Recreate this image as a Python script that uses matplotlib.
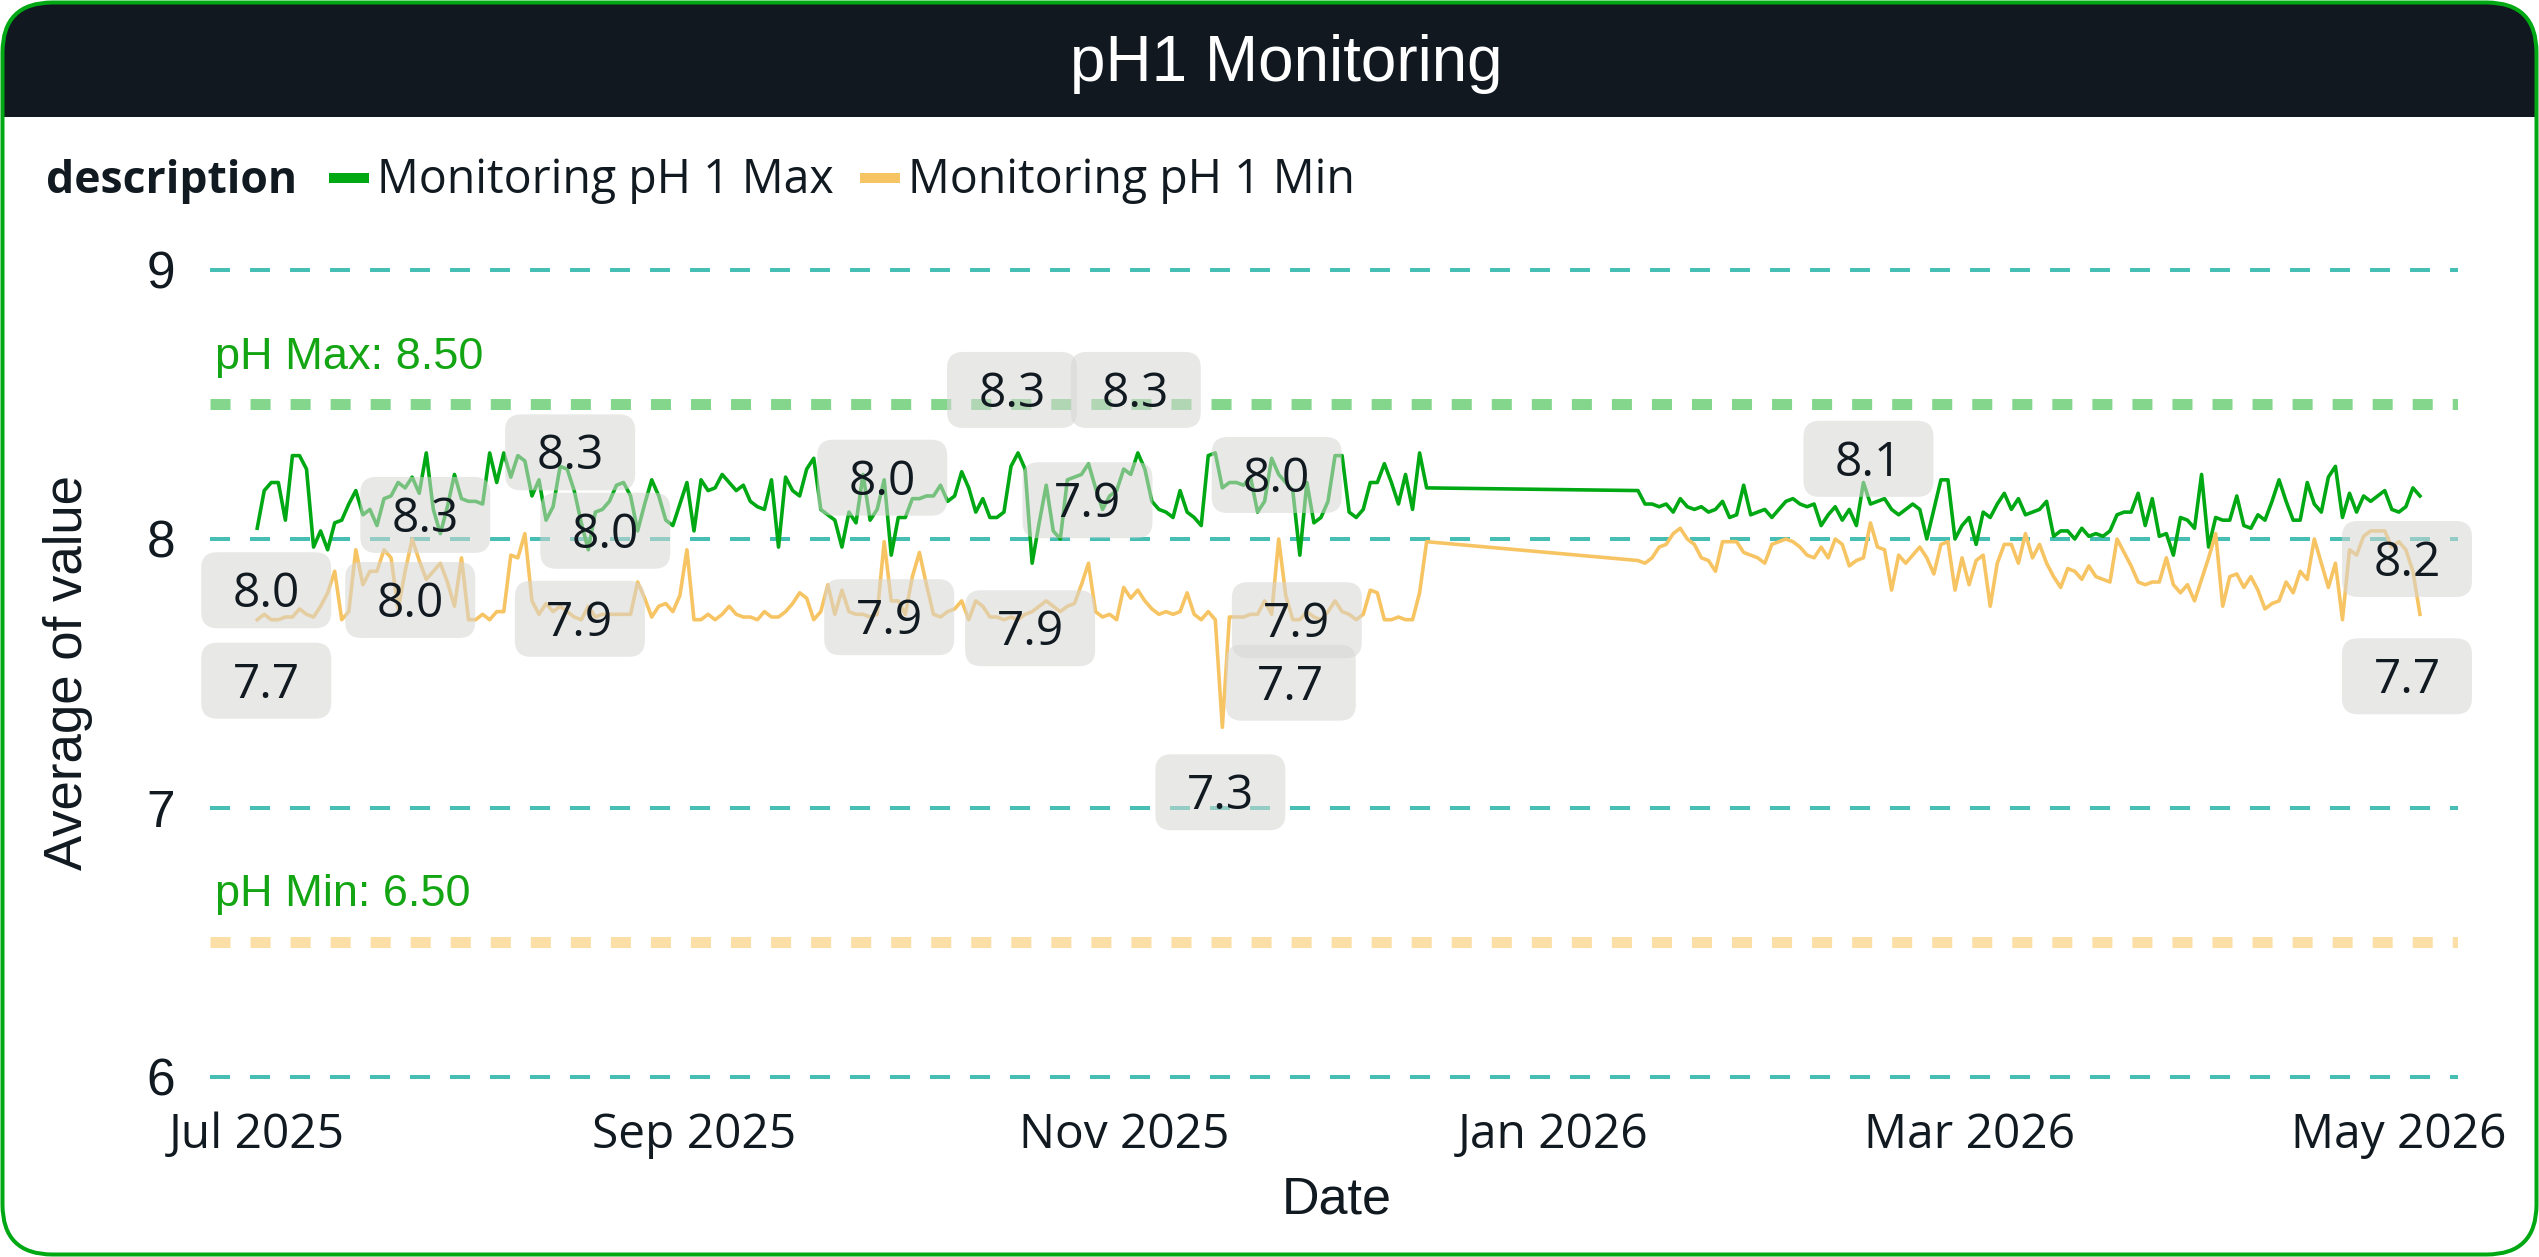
import matplotlib
matplotlib.use('Agg')
import matplotlib.pyplot as plt
import matplotlib.dates as mdates
from matplotlib.patches import FancyBboxPatch, Rectangle
from matplotlib.lines import Line2D
import pandas as pd

W, H = 2539, 1257
DPI = 100
PT = 72 / DPI  # points per pixel

# ---------------- data ----------------
dates_part1 = pd.date_range('2025-07-01', '2025-12-14', freq='D')
dates_part2 = pd.date_range('2026-01-13', '2026-05-04', freq='D')

ph_max_part1 = [
    8.04, 8.18, 8.21, 8.21, 8.07, 8.31, 8.31, 8.26, 7.97, 8.03,
    7.96, 8.06, 8.07, 8.13, 8.18, 8.09, 8.11, 8.05, 8.15, 8.16,
    8.21, 8.19, 8.23, 8.17, 8.32, 8.11, 8.02, 8.12, 8.24, 8.15,
    8.14, 8.14, 8.13, 8.32, 8.21, 8.32, 8.23, 8.31, 8.29, 8.16,
    8.22, 8.07, 8.12, 8.27, 8.26, 8.18, 8.06, 7.96, 8.10, 8.11,
    8.14, 8.20, 8.21, 8.16, 8.03, 8.13, 8.22, 8.16, 8.07, 8.05,
    8.13, 8.21, 8.03, 8.22, 8.18, 8.19, 8.24, 8.21, 8.18, 8.20,
    8.14, 8.12, 8.11, 8.22, 7.97, 8.23, 8.18, 8.16, 8.26, 8.30,
    8.11, 8.09, 8.07, 7.97, 8.10, 8.06, 8.24, 8.07, 8.11, 8.22,
    7.94, 8.08, 8.08, 8.15, 8.15, 8.16, 8.16, 8.20, 8.14, 8.16,
    8.25, 8.19, 8.10, 8.15, 8.08, 8.08, 8.10, 8.27, 8.32, 8.26,
    7.91, 8.06, 8.20, 8.03, 8.00, 8.22, 8.23, 8.24, 8.28, 8.19,
    8.11, 8.16, 8.18, 8.26, 8.24, 8.32, 8.26, 8.14, 8.11, 8.10,
    8.08, 8.18, 8.10, 8.08, 8.05, 8.31, 8.32, 8.19, 8.21, 8.21,
    8.20, 8.23, 8.10, 8.14, 8.30, 8.24, 8.21, 8.18, 7.94, 8.21,
    8.06, 8.08, 8.14, 8.31, 8.31, 8.10, 8.08, 8.11, 8.21, 8.21,
    8.28, 8.21, 8.13, 8.24, 8.11, 8.32, 8.19,
]
ph_max_part2 = [
    8.18, 8.13, 8.13, 8.12,
    8.13, 8.10, 8.15, 8.12, 8.11, 8.12, 8.10, 8.11, 8.14, 8.08,
    8.09, 8.20, 8.09, 8.10, 8.11, 8.08, 8.11, 8.14, 8.15, 8.13,
    8.12, 8.13, 8.05, 8.09, 8.12, 8.07, 8.11, 8.05, 8.21, 8.13,
    8.14, 8.15, 8.11, 8.09, 8.11, 8.13, 8.11, 8.00, 8.11, 8.22,
    8.22, 8.00, 8.05, 8.08, 7.98, 8.10, 8.08, 8.13, 8.17, 8.11,
    8.15, 8.09, 8.10, 8.11, 8.14, 8.01, 8.03, 8.03, 8.00, 8.04,
    8.01, 8.02, 8.01, 8.03, 8.09, 8.10, 8.10, 8.17, 8.05, 8.15,
    8.01, 8.02, 7.94, 8.08, 8.07, 8.04, 8.24, 7.97, 8.08, 8.07,
    8.07, 8.16, 8.05, 8.04, 8.09, 8.07, 8.14, 8.22, 8.14, 8.07,
    8.07, 8.21, 8.13, 8.10, 8.23, 8.27, 8.08, 8.17, 8.10, 8.16,
    8.14, 8.16, 8.18, 8.11, 8.10, 8.12, 8.19, 8.16,
]
ph_min_part1 = [
    7.70, 7.72, 7.70, 7.70, 7.71, 7.71, 7.74, 7.72, 7.71, 7.75,
    7.80, 7.88, 7.70, 7.73, 7.96, 7.83, 7.88, 7.88, 7.96, 7.93,
    7.74, 7.88, 8.00, 7.92, 7.85, 7.88, 7.91, 7.84, 7.75, 7.93,
    7.70, 7.70, 7.72, 7.70, 7.73, 7.73, 7.94, 7.93, 8.02, 7.77,
    7.72, 7.76, 7.73, 7.75, 7.73, 7.71, 7.70, 7.75, 7.71, 7.72,
    7.72, 7.72, 7.72, 7.72, 7.84, 7.78, 7.71, 7.75, 7.76, 7.73,
    7.79, 7.96, 7.70, 7.70, 7.72, 7.70, 7.72, 7.75, 7.72, 7.71,
    7.71, 7.70, 7.73, 7.71, 7.71, 7.73, 7.76, 7.80, 7.78, 7.70,
    7.73, 7.83, 7.72, 7.81, 7.73, 7.72, 7.72, 7.71, 7.72, 7.99,
    7.77, 7.77, 7.72, 7.86, 7.95, 7.83, 7.72, 7.71, 7.73, 7.74,
    7.77, 7.70, 7.77, 7.75, 7.71, 7.71, 7.70, 7.71, 7.70, 7.72,
    7.73, 7.75, 7.77, 7.75, 7.73, 7.75, 7.76, 7.83, 7.91, 7.73,
    7.71, 7.72, 7.70, 7.82, 7.78, 7.81, 7.77, 7.74, 7.72, 7.73,
    7.72, 7.73, 7.80, 7.72, 7.70, 7.73, 7.70, 7.30, 7.71, 7.71,
    7.71, 7.72, 7.72, 7.77, 7.72, 8.00, 7.79, 7.70, 7.70, 7.73,
    7.71, 7.70, 7.73, 7.77, 7.73, 7.72, 7.70, 7.72, 7.81, 7.80,
    7.70, 7.70, 7.71, 7.70, 7.70, 7.80, 7.99,
]
ph_min_part2 = [
    7.92, 7.91, 7.93, 7.97,
    7.98, 8.02, 8.04, 8.00, 7.98, 7.93, 7.92, 7.88, 7.99, 7.99,
    7.99, 7.95, 7.94, 7.93, 7.91, 7.98, 7.99, 8.00, 7.99, 7.97,
    7.94, 7.93, 7.97, 7.93, 8.00, 7.98, 7.90, 7.92, 7.93, 8.06,
    7.97, 7.96, 7.81, 7.94, 7.91, 7.94, 7.97, 7.93, 7.87, 7.98,
    7.99, 7.81, 7.93, 7.83, 7.92, 7.94, 7.75, 7.91, 7.98, 7.98,
    7.91, 8.02, 7.93, 7.98, 7.91, 7.86, 7.82, 7.89, 7.88, 7.85,
    7.90, 7.86, 7.85, 7.84, 8.00, 7.95, 7.90, 7.84, 7.83, 7.84,
    7.84, 7.93, 7.83, 7.80, 7.83, 7.77, 7.85, 7.93, 8.02, 7.75,
    7.86, 7.87, 7.82, 7.86, 7.81, 7.74, 7.76, 7.77, 7.84, 7.80,
    7.88, 7.85, 8.00, 7.91, 7.82, 7.91, 7.70, 7.96, 7.94, 8.01,
    8.03, 8.03, 8.03, 7.97, 7.99, 7.96, 7.88, 7.72,
]

dates = dates_part1.append(dates_part2)
ph_max = ph_max_part1 + ph_max_part2
ph_min = ph_min_part1 + ph_min_part2

ph_max_limit = 8.50
ph_min_limit = 6.50

series_names = ['Monitoring pH 1 Max', 'Monitoring pH 1 Min']

# data labels: (series, index into the series, dx px, dy px downward)
data_labels = [
    ('max', 0, 9, 62), ('min', 0, 9, 61),
    ('max', 24, -1, 62), ('min', 22, -2, 61),
    ('max', 43, 10, -14), ('max', 47, 17, -19), ('min', 37, 62, 61),
    ('min', 89, -2, -64), ('max', 90, -2, 62),
    ('max', 108, -6, -63), ('max', 125, -2, -63),
    ('min', 118, -1, -63), ('max', 110, -2, 65),
    ('min', 145, -2, -64), ('max', 148, -3, 65),
    ('min', 147, -2, 63), ('min', 137, -2, 65),
    ('min', 200, -2, -64),
    ('max', 278, -13, 63), ('min', 278, -13, 62),
]

# ---------------- style ----------------
GREEN = '#00a814'
ORANGE = '#f7c463'
TEAL = '#46beb4'
DARK = '#121a21'
BAR = '#111820'
ARIAL = ['Liberation Sans', 'DejaVu Sans']
SEGOE = ['Open Sans', 'DejaVu Sans']

fig = plt.figure(figsize=(W / DPI, H / DPI), dpi=DPI, facecolor='white')

# background layer in pixel coordinates (y down)
bg = fig.add_axes([0, 0, 1, 1], zorder=0)
bg.set_xlim(0, W)
bg.set_ylim(H, 0)
bg.axis('off')

r = 46
bg.add_patch(FancyBboxPatch((4 + r, 4 + r), W - 8 - 2 * r, 200 - 2 * r,
                            boxstyle=f'round,pad={r}', fc=BAR, ec='none'))
bg.add_patch(Rectangle((3, 117), W - 6, 120, fc='white', ec='none'))
r2 = 50
bg.add_patch(FancyBboxPatch((2.5 + r2, 2.5 + r2), W - 5 - 2 * r2, H - 5 - 2 * r2,
                            boxstyle=f'round,pad={r2}', fill=False,
                            ec=GREEN, lw=4 * PT))

bg.text(1286, 81, 'pH1 Monitoring', color='white', fontsize=46,
        family=ARIAL, ha='center', va='baseline')

# legend row
bg.text(46, 193, 'description', fontsize=32, fontweight='bold',
        family=SEGOE, color=DARK, va='baseline')
bg.add_line(Line2D([329, 369], [178, 178], color=GREEN, lw=10 * PT,
                   solid_capstyle='butt'))
bg.text(377, 193, series_names[0], fontsize=33.5, family=SEGOE,
        color=DARK, va='baseline')
bg.add_line(Line2D([860, 900], [178, 178], color=ORANGE, lw=10 * PT,
                   solid_capstyle='butt'))
bg.text(908, 193, series_names[1], fontsize=33.5, family=SEGOE,
        color=DARK, va='baseline')

bg.text(68, 672, 'Average of value', rotation=90, ha='center', va='center',
        fontsize=38, family=ARIAL, color=DARK)
bg.text(1337, 1213, 'Date', ha='center', va='baseline',
        fontsize=37.5, family=ARIAL, color=DARK)

# ---------------- main plot ----------------
ylo, yhi = 5.95, 9.05
top_px = 270 - (yhi - 9) * 269
bot_px = 1077 + (6 - ylo) * 269
ax = fig.add_axes([210 / W, (H - bot_px) / H, 2248 / W, (bot_px - top_px) / H],
                  zorder=1)
ax.set_facecolor('none')

start = pd.Timestamp('2025-07-01')
ax.set_xlim(start - pd.Timedelta(days=6.7), start + pd.Timedelta(days=312.4))
ax.set_ylim(ylo, yhi)

ax.set_yticks([6, 7, 8, 9])
ax.set_yticklabels(['6', '7', '8', '9'])
ax.grid(axis='y', color=TEAL, lw=4 * PT, linestyle=(0, (5, 5)))
ax.set_axisbelow(True)

ax.axhline(ph_max_limit, color='#84d68c', lw=11 * PT, linestyle=(0, (1.82, 1.82)))
ax.axhline(ph_min_limit, color='#fbdfa6', lw=11 * PT, linestyle=(0, (1.82, 1.82)))
ax.annotate(f'pH Max: {ph_max_limit:.2f}', xy=(0, ph_max_limit),
            xycoords=('axes fraction', 'data'), xytext=(5 * PT, 35 * PT),
            textcoords='offset points', va='baseline', fontsize=32.5,
            family=ARIAL, color='#14a514')
ax.annotate(f'pH Min: {ph_min_limit:.2f}', xy=(0, ph_min_limit),
            xycoords=('axes fraction', 'data'), xytext=(5 * PT, 36 * PT),
            textcoords='offset points', va='baseline', fontsize=32.5,
            family=ARIAL, color='#14a514')

ax.plot(dates, ph_max, color=GREEN, lw=3.6 * PT)
ax.plot(dates, ph_min, color=ORANGE, lw=3.6 * PT)

ax.xaxis.set_major_locator(mdates.MonthLocator(bymonth=[1, 3, 5, 7, 9, 11]))
ax.xaxis.set_major_formatter(mdates.DateFormatter('%b %Y'))
ax.tick_params(axis='x', length=0, pad=14.8, labelsize=34.5, labelcolor=DARK)
ax.tick_params(axis='y', length=0, pad=25, labelsize=37, labelcolor=DARK)
for lab in ax.get_xticklabels():
    lab.set_family(SEGOE)
for lab in ax.get_yticklabels():
    lab.set_family(ARIAL)
for s in ax.spines.values():
    s.set_visible(False)

# ---------------- data labels overlay (display pixels, y up) ----------------
ov = fig.add_axes([0, 0, 1, 1], zorder=3)
ov.set_xlim(0, W)
ov.set_ylim(0, H)
ov.axis('off')
ov.set_facecolor('none')

series = {'max': ph_max, 'min': ph_min}
bw, bh, br = 130, 76, 16
for name, idx, dx, dy in data_labels:
    val = series[name][idx]
    px, py = ax.transData.transform((mdates.date2num(dates[idx]), val))
    cx, cy = px + dx, py - dy
    ov.add_patch(FancyBboxPatch((cx - bw / 2 + br, cy - bh / 2 + br),
                                bw - 2 * br, bh - 2 * br,
                                boxstyle=f'round,pad={br}',
                                fc=(0.84, 0.84, 0.83, 0.55), ec='none'))
    ov.text(cx, cy - 17, f'{val:.1f}', ha='center', va='baseline',
            fontsize=34.5, family=SEGOE, color=DARK)

fig.savefig('out.png', dpi=DPI, facecolor='white')
